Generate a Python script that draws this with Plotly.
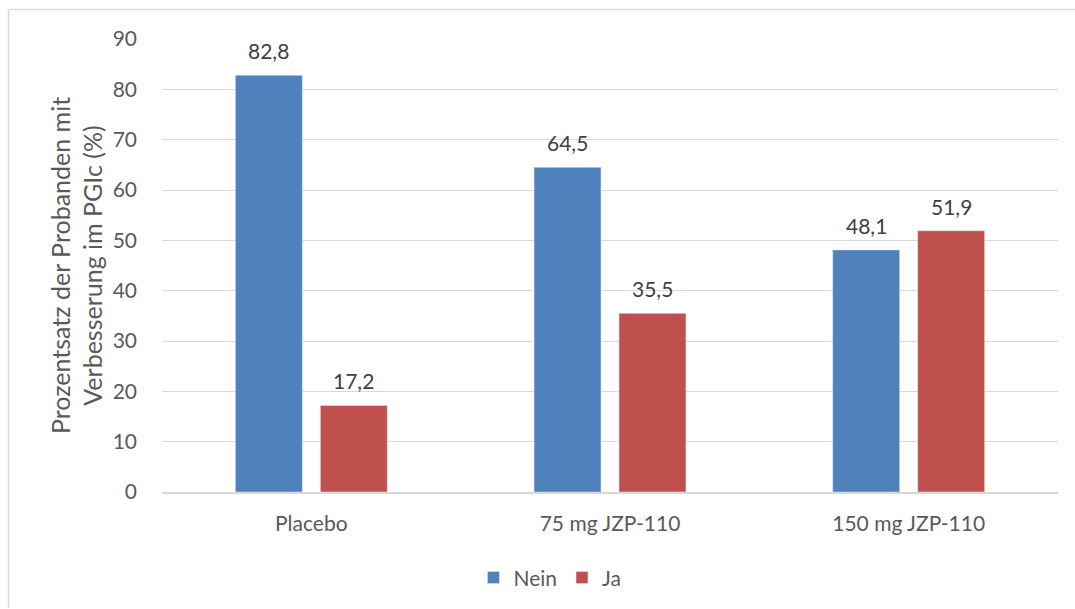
import plotly.graph_objects as go

categories = ["Placebo", "75 mg JZP-110", "150 mg JZP-110"]
nein = [82.8, 64.5, 48.1]
ja = [17.2, 35.5, 51.9]
series_names = ["Nein", "Ja"]
y_ticks = [0, 10, 20, 30, 40, 50, 60, 70, 80, 90]

FONT = "Lato, 'Open Sans', sans-serif"
GREY = "#595959"
LABEL = "#404040"

fig = go.Figure()
fig.add_trace(go.Bar(x=categories, y=nein, name=series_names[0], marker_color="#4F81BD"))
fig.add_trace(go.Bar(x=categories, y=ja, name=series_names[1], marker_color="#C0504D"))

annotations = []
for vals, shift in ((nein, -42.5), (ja, 42.5)):
    for c, v in zip(categories, vals):
        annotations.append(dict(
            x=c, y=v, xref="x", yref="y", xshift=shift, yshift=10,
            yanchor="bottom", xanchor="center", showarrow=False,
            text=f"{v:.1f}".replace(".", ","),
            font=dict(size=21, color=LABEL, family=FONT)))

fig.update_layout(
    width=1075, height=609,
    margin=dict(l=162, r=17, t=39, b=116),
    paper_bgcolor="white", plot_bgcolor="white",
    separators=",.",
    barmode="group", bargap=0.431, bargroupgap=0.212,
    font=dict(family=FONT, size=21, color=GREY),
    showlegend=True,
    legend=dict(orientation="h", x=0.433, xanchor="center", y=-0.187, yanchor="middle",
                font=dict(size=21, color=GREY, family=FONT), itemwidth=30,
                traceorder="normal"),
    xaxis=dict(showgrid=False, showline=True, linecolor="#D9D9D9", linewidth=1.5,
               ticks="", tickfont=dict(size=21, color=GREY), ticklabelstandoff=12),
    yaxis=dict(range=[0, 90], tickvals=y_ticks, showgrid=True, gridcolor="#D9D9D9",
               gridwidth=1, zeroline=False, showline=False, ticks="",
               tickfont=dict(size=21, color=GREY), ticklabelstandoff=24,
               title=dict(text="Prozentsatz der Probanden mit<br>Verbesserung im PGIc (%)",
                          font=dict(size=25, color=GREY), standoff=2)),
    annotations=annotations,
    shapes=[
        dict(type="line", xref="paper", yref="paper", x0=-153/896, x1=(1075-162)/896,
             y0=1 + (39 - 9.5) / 454, y1=1 + (39 - 9.5) / 454,
             line=dict(color="#D9D9D9", width=1.5)),
        dict(type="line", xref="paper", yref="paper", x0=-153.5/896, x1=-153.5/896,
             y0=1 + (39 - 9.5) / 454, y1=-116/454,
             line=dict(color="#D9D9D9", width=1.5)),
    ],
)

fig.write_html("out.html")
